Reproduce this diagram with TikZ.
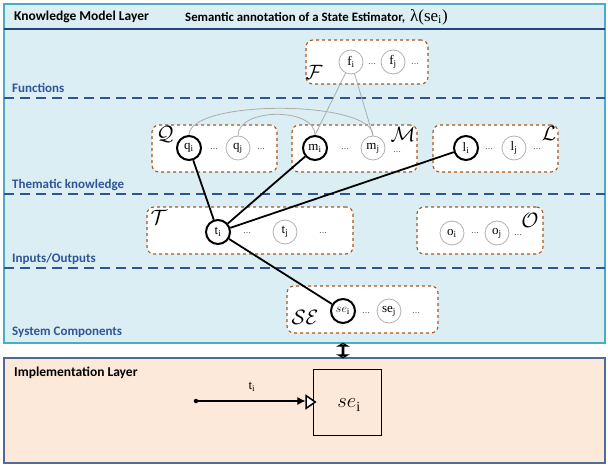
\documentclass[tikz,border=0pt]{standalone}
\usepackage{fontspec}
\setmainfont{Liberation Serif}
\setsansfont{Carlito}
\usetikzlibrary{arrows.meta,shapes.geometric,shapes.arrows}

\definecolor{kmfill}{RGB}{219,238,244}
\definecolor{kmline}{RGB}{75,172,198}
\definecolor{bandblue}{RGB}{47,85,151}
\definecolor{setbrown}{RGB}{168,86,27}
\definecolor{implfill}{RGB}{253,233,217}
\definecolor{implline}{RGB}{79,107,150}

\begin{document}
\begin{tikzpicture}[x=1pt, y=-1pt,
  setbox/.style={draw=setbrown, dashed, line width=1.1pt, fill=white, rounded corners=7pt, minimum height=47pt, minimum width=#1},
  ent/.style={draw=gray!60, circle, line width=0.8pt, minimum size=24pt, inner sep=0pt, font=\fontsize{13}{14}\selectfont},
  pick/.style={ent, draw=black, line width=2pt},
  etc/.style={font=\footnotesize, inner sep=0pt},
  setname/.style={font=\fontsize{22}{24}\selectfont, inner sep=0pt},
  band/.style={font=\sffamily\bfseries\fontsize{13}{15}\selectfont, text=bandblue, anchor=west, inner sep=0pt},
  head/.style={font=\sffamily\bfseries\fontsize{13.5}{15}\selectfont, anchor=west, inner sep=0pt},
  cut/.style={draw=bandblue, line width=2pt, dash pattern=on 10pt off 6pt},
  link/.style={line width=1.8pt},
  rel/.style={gray!65, line width=0.8pt},
  port/.style={isosceles triangle, isosceles triangle apex angle=70, draw, fill=white, line width=1.5pt, inner sep=0pt, minimum height=9pt}]

\useasboundingbox (0,0) rectangle (608,465);

% knowledge model layer
\draw[kmline, fill=kmfill, line width=1.2pt] (4,4) rectangle (605,343);
\draw[bandblue!80!black, line width=1.8pt] (4,29) -- (605,29);
\node[head] (kml) at (14,17) {Knowledge Model Layer};
\node[head, font=\sffamily\bfseries\fontsize{12.8}{15}\selectfont] (sem) at (185,17) {Semantic annotation of a State Estimator,\,
  {\rmfamily\mdseries\fontsize{17}{18}\selectfont λ(se\textsubscript{i})}};

\foreach \y in {98,194,268} \draw[cut] (4,\y) -- (605,\y);
\node[band] (fun) at (12,88) {Functions};
\node[band] (them) at (12,185) {Thematic knowledge};
\node[band] (io) at (12,259) {Inputs/Outputs};
\node[band] (sys) at (12,332) {System Components};

% functions
\node[setbox=122pt, minimum height=44pt] (F) at (367,62) {};
\node[setname] (Fn) at (314,72) {$\mathcal{F}$};
\node[ent] (fi) at (351,62) {f\textsubscript{i}};
\node[etc] (fd1) at (372,64) {\ldots};
\node[ent] (fj) at (393,62) {f\textsubscript{j}};
\node[etc] (fd2) at (415,64) {\ldots};

% thematic knowledge
\node[setbox=125pt] (Q) at (214.5,148.5) {};
\node[setname] (Qn) at (165,134) {$\mathcal{Q}$};
\node[pick] (qi) at (189,148) {q\textsubscript{i}};
\node[etc] (qd1) at (214,149) {\ldots};
\node[ent] (qj) at (238,148) {q\textsubscript{j}};
\node[etc] (qd2) at (261,149) {\ldots};

\node[setbox=125pt] (M) at (354.5,148.5) {};
\node[setname] (Mn) at (403,134) {$\mathcal{M}$};
\node[pick] (mi) at (315,148) {m\textsubscript{i}};
\node[etc] (md1) at (345,149) {\ldots};
\node[ent] (mj) at (373,148) {m\textsubscript{j}};
\node[etc] (md2) at (397,152) {\ldots};

\node[setbox=125pt] (L) at (495.5,148.5) {};
\node[setname] (Ln) at (549,133) {$\mathcal{L}$};
\node[pick] (li) at (466,148) {l\textsubscript{i}};
\node[etc] (ld1) at (489,149) {\ldots};
\node[ent] (lj) at (514,148) {l\textsubscript{j}};
\node[etc] (ld2) at (537,149) {\ldots};

% inputs / outputs
\node[setbox=206pt] (T) at (250,230.5) {};
\node[setname] (Tn) at (159,217) {$\mathcal{T}$};
\node[pick] (ti) at (218,232) {t\textsubscript{i}};
\node[etc] (td1) at (247,233) {\ldots};
\node[ent] (tj) at (285,232) {t\textsubscript{j}};
\node[etc] (td2) at (323,233) {\ldots};

\node[setbox=126pt] (O) at (480,230.5) {};
\node[setname] (On) at (530,220) {$\mathcal{O}$};
\node[ent] (oi) at (452,233) {o\textsubscript{i}};
\node[etc] (od1) at (475,233) {\ldots};
\node[ent] (oj) at (497,233) {o\textsubscript{j}};
\node[etc] (od2) at (518,235) {\ldots};

% system components
\node[setbox=151pt] (SE) at (362.5,309.5) {};
\node[setname] (SEn) at (305,317) {$\mathcal{SE}$};
\node[pick] (sei) at (343,311) {$se$\textsubscript{i}};
\node[etc] (sed1) at (366,313) {\ldots};
\node[ent] (sej) at (389,311) {se\textsubscript{j}};
\node[etc] (sed2) at (416,313) {\ldots};

% relations between entities
\draw[rel] (fi) -- (mi.north);
\draw[rel] (fi) -- (mj.north);
\draw[rel] (qi.north) .. controls +(0,-36) and +(0,-36) .. (mj.north);
\draw[rel] (qj.north) .. controls +(0,-28) and +(0,-28) .. (mi.north);

% annotation of the state estimator
\draw[link] (qi) -- (ti);
\draw[link] (mi) -- (ti);
\draw[link] (li) -- (ti);
\draw[link] (ti) -- (sei);

% implementation layer
\draw[implline, fill=implfill, line width=1.2pt] (4,358) rectangle (605,463);
\node[double arrow, draw, fill=white, line width=1.4pt, rotate=90, inner sep=0pt,
  minimum height=14pt, minimum width=4pt, double arrow head extend=3.5pt, double arrow tip angle=120] (sync) at (343,350.5) {};
\node[head] (iml) at (14,373) {Implementation Layer};
\node[draw, line width=1pt, minimum width=68pt, minimum height=66pt, inner sep=0pt] (blk) at (347,402) {};
\node[font=\fontsize{21}{22}\selectfont] (blkn) at (349,405) {$se$\textsubscript{\fontsize{14}{15}\selectfont i}};
\node[port, anchor=apex] (pin) at ([xshift=4pt]blk.west) {};
\node[circle, fill, inner sep=0pt, minimum size=4.5pt] (src) at (196,401) {};
\draw[line width=1.1pt, -{Latex[length=8pt,width=8pt]}] (src) -- node[above=6pt, font=\fontsize{13}{14}\selectfont] (tin) {t\textsubscript{i}} (pin.west |- src);
\end{tikzpicture}
\end{document}
